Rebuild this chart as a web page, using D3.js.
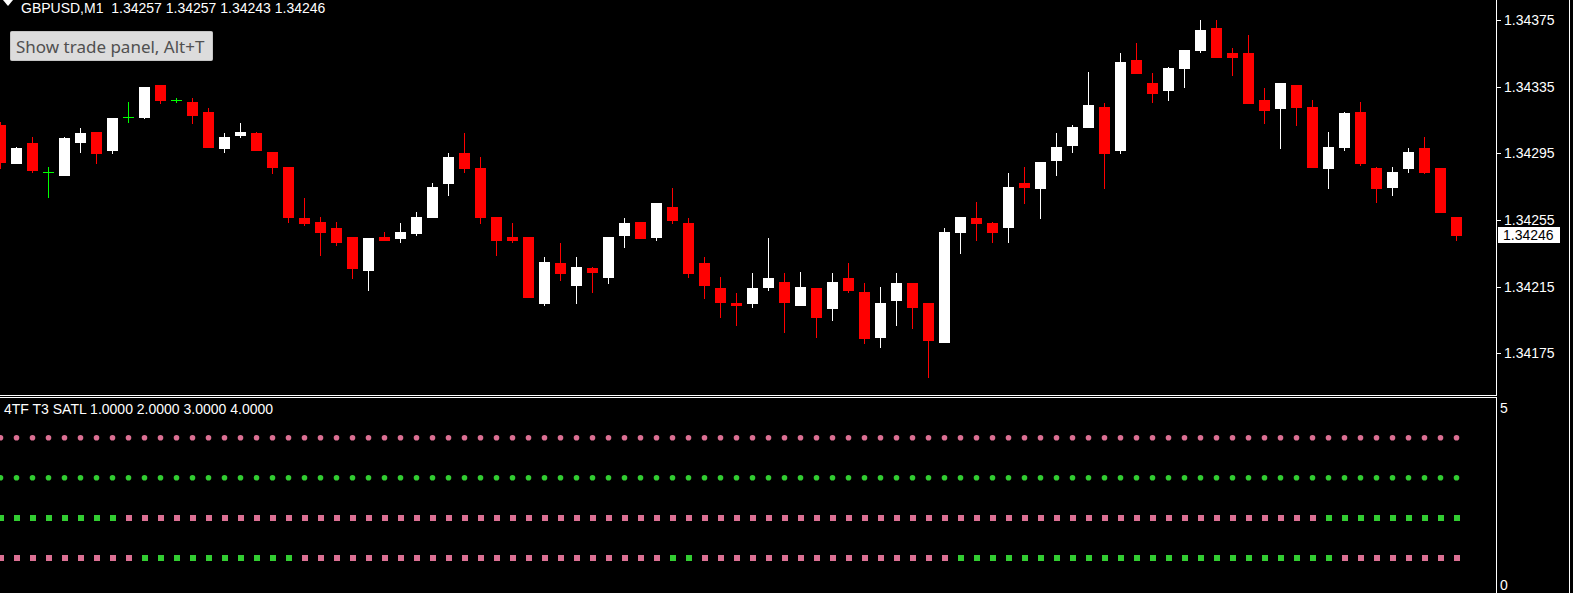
<!DOCTYPE html>
<html>
<head>
<meta charset="utf-8">
<script src="https://d3js.org/d3.v7.min.js"></script>
<style>
  html, body { margin: 0; padding: 0; background: #000; overflow: hidden; }
  svg { display: block; }
</style>
</head>
<body>
<div id="chart"></div>
<script>
'use strict';

// GBPUSD M1 bars (oldest -> newest)
var barOpen = [
  1.34312, 1.34289, 1.34301, 1.34284, 1.34282, 1.34302, 1.34308, 1.34297, 1.34317, 1.34317,
  1.34336, 1.34327, 1.34326, 1.34320, 1.34298, 1.34306, 1.34307, 1.34296, 1.34287, 1.34256,
  1.34254, 1.34250, 1.34245, 1.34225, 1.34245, 1.34244, 1.34247, 1.34257, 1.34277, 1.34295,
  1.34286, 1.34257, 1.34245, 1.34245, 1.34205, 1.34229, 1.34216, 1.34226, 1.34221, 1.34246,
  1.34254, 1.34245, 1.34263, 1.34253, 1.34229, 1.34214, 1.34205, 1.34205, 1.34215, 1.34218,
  1.34204, 1.34214, 1.34202, 1.34220, 1.34212, 1.34185, 1.34207, 1.34217, 1.34205, 1.34182,
  1.34248, 1.34256, 1.34253, 1.34251, 1.34277, 1.34274, 1.34291, 1.34300, 1.34311, 1.34323,
  1.34297, 1.34351, 1.34337, 1.34333, 1.34346, 1.34357, 1.34370, 1.34355, 1.34355, 1.34327,
  1.34322, 1.34336, 1.34323, 1.34286, 1.34299, 1.34320, 1.34286, 1.34275, 1.34286, 1.34298,
  1.34286, 1.34257
];
var barHigh = [
  1.34314, 1.34299, 1.34305, 1.34287, 1.34305, 1.34310, 1.34308, 1.34316, 1.34326, 1.34335,
  1.34336, 1.34328, 1.34328, 1.34322, 1.34307, 1.34313, 1.34308, 1.34296, 1.34287, 1.34268,
  1.34257, 1.34254, 1.34245, 1.34244, 1.34248, 1.34253, 1.34260, 1.34277, 1.34295, 1.34307,
  1.34293, 1.34257, 1.34253, 1.34245, 1.34233, 1.34241, 1.34233, 1.34227, 1.34245, 1.34256,
  1.34254, 1.34265, 1.34274, 1.34256, 1.34233, 1.34221, 1.34211, 1.34223, 1.34244, 1.34223,
  1.34224, 1.34214, 1.34223, 1.34229, 1.34217, 1.34215, 1.34223, 1.34217, 1.34205, 1.34250,
  1.34257, 1.34266, 1.34254, 1.34283, 1.34287, 1.34290, 1.34307, 1.34312, 1.34344, 1.34325,
  1.34355, 1.34361, 1.34343, 1.34347, 1.34357, 1.34375, 1.34375, 1.34358, 1.34366, 1.34334,
  1.34337, 1.34336, 1.34327, 1.34308, 1.34320, 1.34326, 1.34287, 1.34287, 1.34298, 1.34305,
  1.34286, 1.34257
];
var barLow = [
  1.34286, 1.34289, 1.34284, 1.34269, 1.34282, 1.34296, 1.34289, 1.34295, 1.34314, 1.34316,
  1.34325, 1.34326, 1.34313, 1.34299, 1.34296, 1.34305, 1.34297, 1.34283, 1.34254, 1.34252,
  1.34234, 1.34240, 1.34220, 1.34213, 1.34243, 1.34242, 1.34246, 1.34257, 1.34270, 1.34284,
  1.34253, 1.34234, 1.34242, 1.34209, 1.34204, 1.34219, 1.34205, 1.34212, 1.34217, 1.34239,
  1.34244, 1.34243, 1.34253, 1.34221, 1.34208, 1.34197, 1.34192, 1.34203, 1.34213, 1.34188,
  1.34204, 1.34185, 1.34195, 1.34212, 1.34181, 1.34179, 1.34192, 1.34190, 1.34161, 1.34182,
  1.34235, 1.34243, 1.34242, 1.34242, 1.34265, 1.34256, 1.34282, 1.34296, 1.34311, 1.34274,
  1.34295, 1.34343, 1.34326, 1.34327, 1.34335, 1.34356, 1.34353, 1.34342, 1.34325, 1.34313,
  1.34298, 1.34312, 1.34287, 1.34274, 1.34297, 1.34288, 1.34266, 1.34270, 1.34284, 1.34283,
  1.34260, 1.34243
];
var barClose = [
  1.34290, 1.34298, 1.34285, 1.34284, 1.34304, 1.34307, 1.34295, 1.34316, 1.34317, 1.34335,
  1.34327, 1.34327, 1.34318, 1.34299, 1.34305, 1.34308, 1.34297, 1.34287, 1.34257, 1.34253,
  1.34248, 1.34242, 1.34226, 1.34244, 1.34243, 1.34248, 1.34257, 1.34275, 1.34293, 1.34286,
  1.34257, 1.34243, 1.34243, 1.34209, 1.34230, 1.34223, 1.34227, 1.34224, 1.34245, 1.34253,
  1.34244, 1.34265, 1.34255, 1.34223, 1.34216, 1.34206, 1.34204, 1.34214, 1.34220, 1.34206,
  1.34215, 1.34197, 1.34218, 1.34213, 1.34184, 1.34205, 1.34217, 1.34203, 1.34183, 1.34248,
  1.34257, 1.34253, 1.34248, 1.34275, 1.34275, 1.34290, 1.34299, 1.34311, 1.34324, 1.34295,
  1.34350, 1.34343, 1.34331, 1.34346, 1.34357, 1.34369, 1.34353, 1.34353, 1.34325, 1.34321,
  1.34337, 1.34323, 1.34287, 1.34299, 1.34319, 1.34289, 1.34274, 1.34284, 1.34296, 1.34284,
  1.34260, 1.34246
];

// price scale labels on the right
var priceTicks = [1.34375, 1.34335, 1.34295, 1.34255, 1.34215, 1.34175];
var lastPrice = 1.34246;

var symbolTitle = 'GBPUSD,M1  1.34257 1.34257 1.34243 1.34246';
var indicatorTitle = '4TF T3 SATL 1.0000 2.0000 3.0000 4.0000';
var buttonText = 'Show trade panel, Alt+T';

// 4TF T3 SATL trend per bar, u = up (green), d = down (pink)
// one string per level, levels 4 / 3 are drawn as circles, 2 / 1 as squares
var trendTf1 = 'dddddddddd dddddddddd dddddddddd dddddddddd dddddddddd dddddddddd dddddddddd dddddddddd dddddddddd dd';
var trendTf2 = 'uuuuuuuuuu uuuuuuuuuu uuuuuuuuuu uuuuuuuuuu uuuuuuuuuu uuuuuuuuuu uuuuuuuuuu uuuuuuuuuu uuuuuuuuuu uu';
var trendTf3 = 'uuuuuuuudd dddddddddd dddddddddd dddddddddd dddddddddd dddddddddd dddddddddd dddddddddd ddduuuuuuu uu';
var trendTf4 = 'dddddddddu uuuuuuuuud dddddddddd dddddddddd dduudddddd dddddddddd uuuuuuuuuu uuuuuuuuuu uuuudddddd dd';
var trendLevels = [4, 3, 2, 1];
var indicatorAxis = [5, 0];


var width = 1573;
var height = 593;
var chartRight = 1496;
var mainBottom = 395;
var subTop = 397;

var svg = d3.select('#chart')
    .append('svg')
    .attr('width', width)
    .attr('height', height)
    .style('background', '#000');

var bars = barOpen.map(function (o, i) {
    return { i: i, open: o, high: barHigh[i], low: barLow[i], close: barClose[i] };
});

var x = d3.scaleLinear()
    .domain([0, bars.length - 1])
    .range([0, 1456]);

var y = d3.scaleLinear()
    .domain([1.34375, 1.34175])
    .range([20, 353.33]);

var ySub = d3.scaleLinear()
    .domain([0, 5])
    .range([597.7, 397.7]);

var GREEN = '#00ff00';
var UP_FILL = '#ffffff';
var DOWN_FILL = '#ff0000';

function px(v) { return Math.round(v); }

function candleColor(d) {
    if (d.open === d.close) return GREEN;
    return d.close > d.open ? UP_FILL : DOWN_FILL;
}

// ---- candles
var candles = svg.append('g')
    .attr('class', 'candles')
    .selectAll('g')
    .data(bars)
    .enter()
    .append('g');

candles.append('rect')
    .attr('x', function (d) { return px(x(d.i)); })
    .attr('width', 1)
    .attr('y', function (d) { return px(y(d.high)); })
    .attr('height', function (d) { return px(y(d.low)) - px(y(d.high)) + 1; })
    .attr('fill', candleColor)
    .attr('shape-rendering', 'crispEdges');

candles.append('rect')
    .attr('x', function (d) { return px(x(d.i)) - 5; })
    .attr('width', 11)
    .attr('y', function (d) { return px(y(Math.max(d.open, d.close))); })
    .attr('height', function (d) {
        return px(y(Math.min(d.open, d.close))) - px(y(Math.max(d.open, d.close))) + 1;
    })
    .attr('fill', candleColor)
    .attr('shape-rendering', 'crispEdges');

// ---- frame lines
var frame = svg.append('g')
    .attr('stroke', '#ffffff')
    .attr('stroke-width', 1)
    .attr('shape-rendering', 'crispEdges');

frame.append('line').attr('x1', chartRight + 0.5).attr('x2', chartRight + 0.5).attr('y1', 0).attr('y2', mainBottom);
frame.append('line').attr('x1', 0).attr('x2', chartRight + 1).attr('y1', mainBottom + 0.5).attr('y2', mainBottom + 0.5);
frame.append('line').attr('x1', 0).attr('x2', chartRight + 1).attr('y1', subTop + 0.5).attr('y2', subTop + 0.5);
frame.append('line').attr('x1', chartRight + 0.5).attr('x2', chartRight + 0.5).attr('y1', subTop).attr('y2', height);
frame.append('line').attr('x1', 1569.5).attr('x2', 1569.5).attr('y1', 0).attr('y2', height);

// ---- price axis
var axis = d3.axisRight(y)
    .tickValues(priceTicks)
    .tickFormat(d3.format('.5f'))
    .tickSize(4)
    .tickPadding(3);

var axisG = svg.append('g')
    .attr('transform', 'translate(' + (chartRight + 1) + ',0)')
    .call(axis);

axisG.select('.domain').remove();
axisG.selectAll('line').attr('stroke', '#fff').attr('shape-rendering', 'crispEdges');
axisG.selectAll('text')
    .attr('fill', '#fff')
    .style('font-family', '"Liberation Sans", Arial, sans-serif')
    .style('font-size', '14px');

// current price label
svg.append('rect')
    .attr('x', chartRight + 2)
    .attr('y', px(y(lastPrice)) - 8)
    .attr('width', 62)
    .attr('height', 16)
    .attr('fill', '#fff');

svg.append('text')
    .attr('x', chartRight + 7)
    .attr('y', px(y(lastPrice)) + 5)
    .attr('fill', '#000')
    .style('font-family', '"Liberation Sans", Arial, sans-serif')
    .style('font-size', '14px')
    .text(d3.format('.5f')(lastPrice));

// ---- titles
svg.append('path')
    .attr('d', 'M3,0 L13,0 L8,6 Z')
    .attr('fill', '#fff');

svg.append('text')
    .attr('x', 21)
    .attr('y', 13)
    .attr('fill', '#fff')
    .style('font-family', '"Liberation Sans", Arial, sans-serif')
    .style('font-size', '14px')
    .style('white-space', 'pre')
    .text(symbolTitle);

// trade panel button
svg.append('rect')
    .attr('x', 10.5)
    .attr('y', 31.5)
    .attr('width', 202)
    .attr('height', 29)
    .attr('rx', 1)
    .attr('fill', '#dcdcdc')
    .attr('stroke', '#c4c4c4');

svg.append('text')
    .attr('x', 16)
    .attr('y', 53)
    .attr('fill', '#505050')
    .style('font-family', '"Noto Sans", "Open Sans", sans-serif')
    .style('font-size', '17px')
    .text(buttonText);

// ---- indicator sub window
svg.append('text')
    .attr('x', 4)
    .attr('y', 414)
    .attr('fill', '#fff')
    .style('font-family', '"Liberation Sans", Arial, sans-serif')
    .style('font-size', '14px')
    .text(indicatorTitle);

svg.append('g')
    .selectAll('text')
    .data(indicatorAxis)
    .enter()
    .append('text')
    .attr('x', chartRight + 4)
    .attr('y', function (d) { return d === 5 ? 413 : 589.5; })
    .attr('fill', '#fff')
    .style('font-family', '"Liberation Sans", Arial, sans-serif')
    .style('font-size', '14px')
    .text(function (d) { return d; });

var trendRows = [trendTf1, trendTf2, trendTf3, trendTf4].map(function (s, k) {
    var flags = s.replace(/ /g, '').split('');
    return { level: trendLevels[k], shape: k < 2 ? 'circle' : 'square', flags: flags };
});

var PINK = '#db7093';
var LIME = '#32cd32';

trendRows.forEach(function (row) {
    var g = svg.append('g').attr('class', 'tf-row');
    var pts = row.flags.map(function (f, i) { return { i: i, up: f === 'u' }; });

    if (row.shape === 'circle') {
        g.selectAll('circle')
            .data(pts)
            .enter()
            .append('circle')
            .attr('cx', function (d) { return x(d.i) + 0.5; })
            .attr('cy', ySub(row.level))
            .attr('r', 2.8)
            .attr('fill', function (d) { return d.up ? LIME : PINK; });
    } else {
        g.selectAll('rect')
            .data(pts)
            .enter()
            .append('rect')
            .attr('x', function (d) { return x(d.i) - 2.5; })
            .attr('y', px(ySub(row.level)) - 3)
            .attr('width', 6)
            .attr('height', 6)
            .attr('fill', function (d) { return d.up ? LIME : PINK; })
            .attr('shape-rendering', 'crispEdges');
    }
});
</script>
</body>
</html>
